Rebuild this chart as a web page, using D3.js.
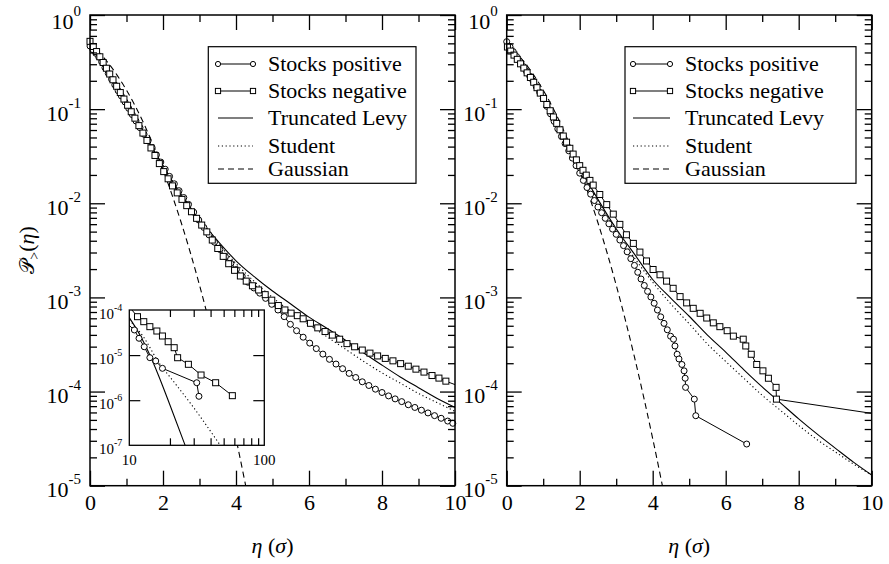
<!DOCTYPE html>
<html>
<head>
<meta charset="utf-8">
<script src="https://cdn.jsdelivr.net/npm/d3@7"></script>
<style>
  body { margin: 0; background: #fff; }
  svg { display: block; }
  text { font-family: "Liberation Serif", "Times New Roman", serif; fill: #000; }
</style>
</head>
<body>
<svg id="chart" width="889" height="564"></svg>
<script>
// Cumulative distributions P>(eta) of normalised returns, eta in units of sigma.
// Each entry is [eta, P].

// Left panel: returns of the stock ensemble
const leftPositive = [[0,0.468],[0.08,0.428],[0.16,0.392],[0.24,0.358],[0.32,0.318],[0.41,0.276],[0.5,0.240],[0.59,0.208],[0.68,0.181],[0.77,0.157],[0.86,0.138],[0.96,0.119],[1.06,0.102],[1.16,0.0873],[1.26,0.0748],[1.37,0.0635],[1.48,0.0541],[1.59,0.0459],[1.70,0.0391],[1.82,0.0327],[1.94,0.0274],[2.06,0.0230],[2.18,0.0193],[2.31,0.0161],[2.44,0.0136],[2.57,0.0115],[2.70,0.00973],[2.84,0.00805],[2.98,0.00664],[3.12,0.00553],[3.26,0.00462],[3.41,0.00386],[3.56,0.00323],[3.71,0.00270],[3.86,0.00230],[4.01,0.00198],[4.17,0.00168],[4.33,0.00145],[4.49,0.00126],[4.65,0.00111],[4.81,9.77e-4],[4.98,8.45e-4],[5.15,7.35e-4],[5.32,6.25e-4],[5.49,5.18e-4],[5.66,4.43e-4],[5.84,3.78e-4],[6.02,3.27e-4],[6.20,2.86e-4],[6.38,2.50e-4],[6.56,2.20e-4],[6.74,1.96e-4],[6.92,1.75e-4],[7.10,1.56e-4],[7.28,1.41e-4],[7.46,1.27e-4],[7.64,1.16e-4],[7.82,1.06e-4],[8.00,9.77e-5],[8.18,8.99e-5],[8.36,8.36e-5],[8.54,7.82e-5],[8.72,7.24e-5],[8.90,6.78e-5],[9.08,6.34e-5],[9.26,5.93e-5],[9.44,5.55e-5],[9.62,5.20e-5],[9.80,4.86e-5],[9.94,4.60e-5],[10.9,3.61e-5],[11.8,2.36e-5],[12.9,1.53e-5],[14.2,8.77e-6],[15.7,7.41e-6],[17.6,5.09e-6],[31.6,2.44e-6],[32.8,1.22e-6]];

const leftNegative = [[0,0.525],[0.09,0.463],[0.18,0.409],[0.27,0.360],[0.36,0.313],[0.45,0.272],[0.54,0.236],[0.63,0.205],[0.73,0.175],[0.83,0.150],[0.93,0.128],[1.03,0.110],[1.13,0.0938],[1.23,0.0802],[1.34,0.0668],[1.45,0.0557],[1.56,0.0465],[1.67,0.0387],[1.78,0.0322],[1.90,0.0264],[2.02,0.0217],[2.14,0.0182],[2.26,0.0153],[2.39,0.0129],[2.52,0.0110],[2.65,0.00944],[2.78,0.00813],[2.92,0.00692],[3.06,0.00587],[3.20,0.00497],[3.35,0.00407],[3.50,0.00331],[3.65,0.00273],[3.80,0.00228],[3.96,0.00194],[4.12,0.00169],[4.28,0.00149],[4.45,0.00133],[4.62,0.00120],[4.80,0.00107],[4.98,9.35e-4],[5.16,8.20e-4],[5.34,7.36e-4],[5.51,6.81e-4],[5.68,6.40e-4],[5.84,5.93e-4],[6.04,5.31e-4],[6.24,4.75e-4],[6.44,4.34e-4],[6.64,3.98e-4],[6.84,3.60e-4],[7.04,3.23e-4],[7.25,2.99e-4],[7.46,2.76e-4],[7.67,2.56e-4],[7.88,2.39e-4],[8.09,2.25e-4],[8.30,2.12e-4],[8.51,1.98e-4],[8.72,1.86e-4],[8.93,1.73e-4],[9.15,1.61e-4],[9.37,1.48e-4],[9.56,1.39e-4],[9.75,1.29e-4],[11.5,7.11e-5],[12.8,5.51e-5],[14.2,4.27e-5],[16.0,3.42e-5],[17.6,2.65e-5],[19.4,1.98e-5],[21.5,1.46e-5],[22.8,8.75e-6],[27.4,6.25e-6],[34.0,3.62e-6],[43.6,2.44e-6],[58.0,1.26e-6]];

const leftLevy = [[0,0.50],[0.5,0.251],[1,0.115],[1.5,0.0525],[2,0.0251],[2.5,0.0120],[3,0.00676],[3.5,0.00398],[4,0.00245],[4.5,0.00166],[5,0.00117],[5.5,8.51e-4],[6,6.17e-4],[6.5,4.68e-4],[7,3.51e-4],[7.5,2.57e-4],[8,1.91e-4],[8.5,1.43e-4],[9,1.10e-4],[9.5,8.51e-5],[10,6.76e-5],[12.36,2.36e-5],[14.2,1.0e-5],[16.4,3.62e-6],[20,7.83e-7],[25.9,1.0e-7]];

const leftStudent = [[0,0.50],[0.5,0.251],[1,0.115],[1.5,0.0525],[2,0.0251],[2.5,0.0120],[3,0.00661],[3.5,0.00380],[4,0.00229],[4.5,0.00148],[5,0.00100],[5.5,7.08e-4],[6,5.13e-4],[6.5,3.80e-4],[7,2.82e-4],[7.5,2.09e-4],[8,1.58e-4],[8.5,1.23e-4],[9,9.55e-5],[9.5,7.67e-5],[10,6.17e-5],[12.7,2.56e-5],[16.4,7.14e-6],[21.8,2.37e-6],[29,7.83e-7],[47.2,1.0e-7]];

// Right panel
const rightPositive = [[0,0.521],[0.09,0.461],[0.18,0.408],[0.27,0.362],[0.36,0.321],[0.45,0.284],[0.54,0.252],[0.63,0.224],[0.72,0.199],[0.81,0.173],[0.90,0.151],[1.00,0.129],[1.10,0.107],[1.20,0.0891],[1.30,0.0741],[1.40,0.0617],[1.50,0.0513],[1.60,0.0431],[1.70,0.0361],[1.80,0.0302],[1.90,0.0251],[2.00,0.0209],[2.10,0.0175],[2.20,0.0147],[2.30,0.0125],[2.40,0.0107],[2.50,0.00912],[2.60,0.00794],[2.70,0.00692],[2.80,0.00605],[2.90,0.00532],[3.00,0.00468],[3.10,0.00407],[3.20,0.00355],[3.30,0.00305],[3.40,0.00258],[3.50,0.00219],[3.59,0.00185],[3.68,0.00157],[3.77,0.00134],[3.86,0.00116],[3.95,0.00101],[4.04,8.67e-4],[4.13,7.35e-4],[4.22,6.22e-4],[4.31,5.30e-4],[4.40,4.53e-4],[4.49,3.87e-4],[4.57,3.60e-4],[4.61,3.05e-4],[4.67,2.49e-4],[4.72,2.22e-4],[4.80,1.94e-4],[4.86,1.66e-4],[4.89,1.385e-4],[4.90,1.108e-4],[5.14,8.31e-5],[5.18,5.54e-5],[6.575,2.77e-5]];

const rightNegative = [[0.02,0.457],[0.11,0.414],[0.20,0.375],[0.29,0.338],[0.38,0.303],[0.47,0.273],[0.56,0.243],[0.65,0.217],[0.74,0.193],[0.83,0.169],[0.92,0.148],[1.01,0.130],[1.10,0.112],[1.19,0.0962],[1.28,0.0826],[1.37,0.0706],[1.46,0.0603],[1.55,0.0518],[1.64,0.0446],[1.73,0.0384],[1.82,0.0333],[1.91,0.0289],[2.00,0.0251],[2.09,0.0224],[2.18,0.0199],[2.28,0.0175],[2.37,0.0156],[2.55,0.0124],[2.74,0.00968],[2.92,0.00767],[3.10,0.00597],[3.28,0.00463],[3.47,0.00375],[3.65,0.00303],[3.83,0.00244],[4.01,0.00198],[4.20,0.00174],[4.38,0.00149],[4.56,0.00125],[4.75,0.00102],[4.93,8.75e-4],[5.11,7.66e-4],[5.30,6.78e-4],[5.48,6.04e-4],[5.66,5.37e-4],[5.84,4.89e-4],[6.04,4.43e-4],[6.21,3.88e-4],[6.48,3.60e-4],[6.55,3.05e-4],[6.70,2.49e-4],[6.85,1.94e-4],[7.02,1.66e-4],[7.17,1.385e-4],[7.38,1.108e-4],[7.39,8.31e-5],[10.43,5.54e-5]];

const rightLevy = [[0,0.513],[0.5,0.263],[1,0.126],[1.5,0.0562],[2,0.0240],[2.5,0.0110],[3,0.00537],[3.5,0.00288],[4,0.00155],[4.5,9.77e-4],[5,6.31e-4],[5.5,3.98e-4],[6,2.63e-4],[6.5,1.70e-4],[7,1.12e-4],[7.5,7.59e-5],[8,5.13e-5],[8.5,3.55e-5],[9,2.51e-5],[9.5,1.78e-5],[10,1.30e-5]];

const rightStudent = [[0,0.513],[0.5,0.263],[1,0.126],[1.5,0.0562],[2,0.0240],[2.5,0.0107],[3,0.00513],[3.5,0.00263],[4,0.00145],[4.5,8.51e-4],[5,5.25e-4],[5.5,3.20e-4],[6,2.09e-4],[6.5,1.38e-4],[7,9.12e-5],[7.5,6.31e-5],[8,4.37e-5],[8.5,3.09e-5],[9,2.29e-5],[9.5,1.70e-5],[10,1.30e-5]];

// Gaussian tail, same in both panels
const gaussianTail = [[0,0.5],[0.25,0.401],[0.5,0.309],[0.75,0.227],[1,0.159],[1.25,0.106],[1.5,0.0668],[1.75,0.0401],[2,0.0228],[2.25,0.0122],[2.5,0.00621],[2.75,0.00298],[3,0.00135],[3.25,5.77e-4],[3.5,2.33e-4],[3.75,8.84e-5],[4,3.17e-5],[4.25,1.07e-5],[4.5,3.4e-6]];

// Axis ticks and labels
const xTickValues = [0, 2, 4, 6, 8, 10];
const xMinorValues = [1, 3, 5, 7, 9];
const yTickExponents = [0, -1, -2, -3, -4, -5];
const insetXLabels = [10, 100];
const insetXMinor = [20, 30, 40, 50, 60, 70, 80, 90];
const insetYExponents = [-4, -5, -6, -7];
const insetYMajor = [1e-5, 1e-6];
const legendLabels = ["Stocks positive", "Stocks negative", "Truncated Levy", "Student", "Gaussian"];

// ---------------------------------------------------------------------
const svg = d3.select("#chart");
const yTop = 15, yBot = 485.7;
const DOTS = "1.2,2.6", DASH = "6,4";

const panels = [
  { x0: 90, x1: 455, pos: leftPositive, neg: leftNegative, levy: leftLevy, student: leftStudent,
    legend: { x0: 208.3, x1: 416, s0: 218, s1: 253, t: 268 }, inset: true },
  { x0: 506.7, x1: 871.7, pos: rightPositive, neg: rightNegative, levy: rightLevy, student: rightStudent,
    legend: { x0: 625, x1: 856, s0: 633, s1: 670, t: 685 }, inset: false }
];

function powerLabel(sel, exp, size, supSize, supRise) {
  sel.append("tspan").text("10").attr("font-size", size);
  sel.append("tspan").text(String(exp)).attr("font-size", supSize).attr("dy", -supRise);
}

function drawCircles(g, pts, x, y, r) {
  g.selectAll(null).data(pts).join("circle")
    .attr("cx", d => x(d[0])).attr("cy", d => y(d[1])).attr("r", r)
    .attr("fill", "#fff").attr("stroke", "#000").attr("stroke-width", 1);
}
function drawSquares(g, pts, x, y, s) {
  g.selectAll(null).data(pts).join("rect")
    .attr("x", d => x(d[0]) - s / 2).attr("y", d => y(d[1]) - s / 2)
    .attr("width", s).attr("height", s)
    .attr("fill", "#fff").attr("stroke", "#000").attr("stroke-width", 1);
}

panels.forEach((p, i) => {
  const g = svg.append("g");
  const x = d3.scaleLinear().domain([0, 10]).range([p.x0, p.x1]);
  const y = d3.scaleLog().domain([1e-5, 1]).range([yBot, yTop]);
  const clipId = "clip" + i;
  svg.append("clipPath").attr("id", clipId).append("rect")
    .attr("x", p.x0).attr("y", yTop).attr("width", p.x1 - p.x0).attr("height", yBot - yTop);

  const line = d3.line().x(d => x(d[0])).y(d => y(d[1]));
  const smooth = d3.line().x(d => x(d[0])).y(d => y(d[1])).curve(d3.curveMonotoneX);

  const plot = g.append("g").attr("clip-path", `url(#${clipId})`);
  plot.append("path").datum(gaussianTail).attr("d", smooth)
    .attr("fill", "none").attr("stroke", "#000").attr("stroke-width", 1.1).attr("stroke-dasharray", DASH);
  plot.append("path").datum(p.student).attr("d", smooth)
    .attr("fill", "none").attr("stroke", "#000").attr("stroke-width", 1.1).attr("stroke-dasharray", DOTS);
  plot.append("path").datum(p.levy).attr("d", smooth)
    .attr("fill", "none").attr("stroke", "#000").attr("stroke-width", 1.1);
  plot.append("path").datum(p.pos).attr("d", line)
    .attr("fill", "none").attr("stroke", "#000").attr("stroke-width", 1);
  plot.append("path").datum(p.neg).attr("d", line)
    .attr("fill", "none").attr("stroke", "#000").attr("stroke-width", 1);

  const inRange = d => d[0] <= 10 && d[1] >= 1e-5;
  const marks = g.append("g");
  drawCircles(marks, p.pos.filter(inRange), x, y, 3);
  drawSquares(marks, p.neg.filter(inRange), x, y, 6);

  // inset: tails on log-log axes
  if (p.inset) {
    const ix0 = 129.3, ix1 = 264.3, iy0 = 310, iy1 = 445.3;
    const xi = d3.scaleLog().domain([10, 100]).range([ix0, ix1]);
    const yi = d3.scaleLog().domain([1e-7, 1e-4]).range([iy1, iy0]);
    const ig = g.append("g");
    ig.append("rect").attr("x", ix0).attr("y", iy0).attr("width", ix1 - ix0).attr("height", iy1 - iy0)
      .attr("fill", "#fff");
    svg.append("clipPath").attr("id", "clipInset").append("rect")
      .attr("x", ix0).attr("y", iy0).attr("width", ix1 - ix0).attr("height", iy1 - iy0);
    const tail = d => d[0] >= 8;
    const iline = d3.line().x(d => xi(d[0])).y(d => yi(d[1]));
    const ismooth = d3.line().x(d => xi(d[0])).y(d => yi(d[1])).curve(d3.curveMonotoneX);
    const ip = ig.append("g").attr("clip-path", "url(#clipInset)");
    ip.append("path").datum(p.student.filter(tail)).attr("d", ismooth)
      .attr("fill", "none").attr("stroke", "#000").attr("stroke-width", 1.1).attr("stroke-dasharray", DOTS);
    ip.append("path").datum(p.levy.filter(tail)).attr("d", ismooth)
      .attr("fill", "none").attr("stroke", "#000").attr("stroke-width", 1.1);
    ip.append("path").datum(p.pos.filter(tail)).attr("d", iline)
      .attr("fill", "none").attr("stroke", "#000").attr("stroke-width", 1);
    ip.append("path").datum(p.neg.filter(tail)).attr("d", iline)
      .attr("fill", "none").attr("stroke", "#000").attr("stroke-width", 1);
    const inInset = d => d[0] >= 10 && d[0] <= 100 && d[1] >= 1e-7 && d[1] <= 1e-4;
    drawCircles(ig, p.pos.filter(inInset), xi, yi, 3);
    drawSquares(ig, p.neg.filter(inInset), xi, yi, 6);

    const iax = ig.append("g").attr("class", "iax");
    iax.append("g").attr("transform", `translate(0,${iy1})`)
      .call(d3.axisBottom(xi).tickValues(insetXMinor).tickSize(-7).tickFormat(""));
    iax.append("g").attr("transform", `translate(0,${iy0})`)
      .call(d3.axisTop(xi).tickValues(insetXMinor).tickSize(-7).tickFormat(""));
    iax.append("g").attr("transform", `translate(${ix0},0)`)
      .call(d3.axisLeft(yi).tickValues(insetYMajor).tickSize(-11).tickFormat(""));
    iax.append("g").attr("transform", `translate(${ix1},0)`)
      .call(d3.axisRight(yi).tickValues(insetYMajor).tickSize(-11).tickFormat(""));
    iax.selectAll(".domain").remove();
    iax.selectAll(".tick line").attr("stroke", "#000").attr("stroke-width", 1.2);
    ig.append("rect").attr("x", ix0).attr("y", iy0).attr("width", ix1 - ix0).attr("height", iy1 - iy0)
      .attr("fill", "none").attr("stroke", "#000").attr("stroke-width", 1.3);

    insetYExponents.forEach(e => {
      const t = ig.append("text").attr("x", ix0 - 7).attr("y", yi(Math.pow(10, e)) + 9)
        .attr("text-anchor", "end");
      powerLabel(t, e, 15, 10, 8);
    });
    insetXLabels.forEach(v => {
      ig.append("text").attr("x", xi(v)).attr("y", 465).attr("text-anchor", "middle")
        .attr("font-size", 15).text(v);
    });
  }

  // axes: ticks point inward on all four sides
  const ax = g.append("g");
  ax.append("g").attr("transform", `translate(0,${yBot})`)
    .call(d3.axisBottom(x).tickValues(xTickValues).tickSize(-15).tickPadding(8.7).tickFormat(d3.format("d")))
    .selectAll("text").attr("font-size", 22);
  ax.append("g").attr("transform", `translate(0,${yBot})`)
    .call(d3.axisBottom(x).tickValues(xMinorValues).tickSize(-7).tickFormat(""));
  ax.append("g").attr("transform", `translate(0,${yTop})`)
    .call(d3.axisTop(x).tickValues(xTickValues).tickSize(-15).tickFormat(""));
  ax.append("g").attr("transform", `translate(0,${yTop})`)
    .call(d3.axisTop(x).tickValues(xMinorValues).tickSize(-7).tickFormat(""));

  const majorY = yTickExponents.map(e => Math.pow(10, e));
  const minorY = y.ticks().filter(v => Math.abs(Math.log10(v) - Math.round(Math.log10(v))) > 1e-6);
  [[d3.axisLeft, p.x0], [d3.axisRight, p.x1]].forEach(([axisFn, pos]) => {
    ax.append("g").attr("transform", `translate(${pos},0)`)
      .call(axisFn(y).tickValues(majorY).tickSize(-15).tickFormat(""));
    ax.append("g").attr("transform", `translate(${pos},0)`)
      .call(axisFn(y).tickValues(minorY).tickSize(-7).tickFormat(""));
  });
  ax.selectAll(".domain").remove();
  ax.selectAll(".tick line").attr("stroke", "#000").attr("stroke-width", 1.3);
  ax.selectAll(".tick text").attr("fill", "#000");

  g.append("rect").attr("x", p.x0).attr("y", yTop).attr("width", p.x1 - p.x0).attr("height", yBot - yTop)
    .attr("fill", "none").attr("stroke", "#000").attr("stroke-width", 1.5);

  // power-of-ten labels; the top one sits a little lower so it stays on the page
  yTickExponents.forEach(e => {
    const t = g.append("text").attr("x", p.x0 - 9).attr("y", y(Math.pow(10, e)) + (e === 0 ? 14 : 11.5))
      .attr("text-anchor", "end");
    powerLabel(t, e, 22, 15, 13);
  });

  // x-axis title
  const xt = g.append("text").attr("x", (p.x0 + p.x1) / 2).attr("y", 553)
    .attr("text-anchor", "middle").attr("font-size", 22);
  xt.append("tspan").attr("font-style", "italic").text("η");
  xt.append("tspan").text("\u00a0(");
  xt.append("tspan").attr("font-style", "italic").text("σ");
  xt.append("tspan").text(")");

  // legend
  const L = p.legend;
  const rowY = [64, 91, 118, 146, 169];
  const lg = g.append("g");
  lg.append("rect").attr("x", L.x0).attr("y", 46.7).attr("width", L.x1 - L.x0).attr("height", 183.3 - 46.7)
    .attr("fill", "#fff").attr("stroke", "#000").attr("stroke-width", 1.2);
  legendLabels.forEach((lab, k) => {
    const yy = rowY[k];
    const ln = lg.append("line").attr("x1", L.s0).attr("x2", L.s1).attr("y1", yy).attr("y2", yy)
      .attr("stroke", "#000").attr("stroke-width", 1.1);
    if (k === 3) ln.attr("stroke-dasharray", DOTS);
    if (k === 4) ln.attr("stroke-dasharray", DASH);
    if (k === 0) {
      [L.s0, L.s1].forEach(cx => lg.append("circle").attr("cx", cx).attr("cy", yy).attr("r", 2.6)
        .attr("fill", "#fff").attr("stroke", "#000"));
    }
    if (k === 1) {
      [L.s0, L.s1].forEach(cx => lg.append("rect").attr("x", cx - 2.6).attr("y", yy - 2.6)
        .attr("width", 5.2).attr("height", 5.2).attr("fill", "#fff").attr("stroke", "#000"));
    }
    lg.append("text").attr("x", L.t).attr("y", yy + 7).attr("font-size", 22).text(lab);
  });
});

// y-axis title
const yt = svg.append("text").attr("transform", "translate(34,250) rotate(-90)")
  .attr("text-anchor", "middle").attr("font-size", 22);
yt.append("tspan").attr("font-family", "DejaVu Serif, serif").attr("font-size", 20).text("𝒫");
yt.append("tspan").attr("font-size", 14).attr("dy", 5).text(">");
yt.append("tspan").attr("dy", -5).text("(");
yt.append("tspan").attr("font-style", "italic").text("η");
yt.append("tspan").text(")");
</script>
</body>
</html>
